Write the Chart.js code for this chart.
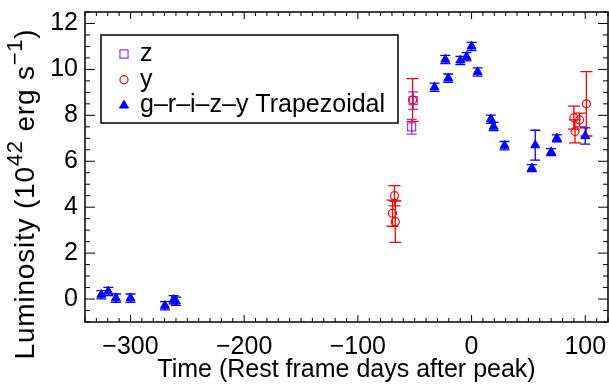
<!DOCTYPE html>
<html lang="en">
<head>
<meta charset="UTF-8">
<title>Luminosity light curve</title>
<script src="https://cdn.jsdelivr.net/npm/chart.js@4.4.4/dist/chart.umd.min.js"></script>
<style>
  html, body { margin: 0; padding: 0; background: #fff; }
</style>
</head>
<body>
<canvas id="lc" width="609" height="385"></canvas>
<script>
  // z band points (rest frame days, 1e42 erg/s)
  const zTime = [-52.7, -51.3];
  const zLum = [7.50, 8.64];
  const zErr = [0.32, 0.38];

  // y band points
  const yTime = [-69.5, -67.8, -67.1, -51.9, 90, 91, 95, 101];
  const yLum = [3.74, 4.50, 3.37, 8.67, 7.9, 7.3, 7.8, 8.5];
  const yErr = [0.57, 0.44, 0.90, 0.93, 0.50, 0.50, 0.30, 1.40];

  // g-r-i-z-y trapezoidal bolometric points
  const trapTime = [-325.6, -319.5, -312.8, -300, -269.7, -262.1, -260,
    -32.6, -23.1, -20.5, -9.9, -4.4, 0, 5.3, 17, 19.4, 29,
    53, 56, 70, 75, 100];
  const trapLum = [0.19, 0.33, 0.04, 0.04, -0.29, -0.03, -0.10,
    9.22, 10.43, 9.62, 10.39, 10.55, 11.0, 9.89, 7.83, 7.51, 6.68,
    5.7, 6.7, 6.4, 7.0, 7.1];
  const trapErr = [0.18, 0.18, 0.18, 0.18, 0.18, 0.18, 0.18,
    0.18, 0.18, 0.18, 0.18, 0.18, 0.18, 0.18, 0.18, 0.18, 0.18,
    0.15, 0.65, 0.15, 0.15, 0.35];

  const xTicks = [-300, -200, -100, 0, 100];
  const yTicks = [0, 2, 4, 6, 8, 10, 12];

  const FONT = '"Liberation Sans", Arial, Helvetica, sans-serif';
  const toPts = (xs, ys) => xs.map((t, i) => ({ x: t, y: ys[i] }));
  const minus = v => String(v).replace('-', '\u2212');

  // vertical error bars with caps, drawn under the markers
  const errorBars = {
    id: 'errorBars',
    beforeDatasetsDraw(chart) {
      const { ctx, scales: { x, y } } = chart;
      chart.data.datasets.forEach(ds => {
        ctx.save();
        ctx.strokeStyle = ds.borderColor;
        ctx.lineWidth = 1.3;
        ctx.beginPath();
        ds.data.forEach((p, j) => {
          const px = x.getPixelForValue(p.x);
          const top = y.getPixelForValue(p.y + ds.errors[j]);
          const bot = y.getPixelForValue(p.y - ds.errors[j]);
          const w = ds.capWidth / 2;
          ctx.moveTo(px, top); ctx.lineTo(px, bot);
          ctx.moveTo(px - w, top); ctx.lineTo(px + w, top);
          ctx.moveTo(px - w, bot); ctx.lineTo(px + w, bot);
        });
        ctx.stroke();
        ctx.restore();
      });
    }
  };

  // box round the plot with inward ticks on all four sides
  const frame = {
    id: 'frame',
    afterDraw(chart) {
      const { ctx, chartArea: a, scales: { x, y } } = chart;
      ctx.save();
      ctx.strokeStyle = '#000';
      ctx.lineWidth = 1.5;
      ctx.strokeRect(a.left, a.top, a.right - a.left, a.bottom - a.top);
      ctx.lineWidth = 1;
      ctx.beginPath();
      for (let v = -340; v <= 120; v += 10) {
        const px = x.getPixelForValue(v);
        const len = v % 100 === 0 ? 7 : 4;
        ctx.moveTo(px, a.bottom); ctx.lineTo(px, a.bottom - len);
        ctx.moveTo(px, a.top); ctx.lineTo(px, a.top + len);
      }
      for (let k = -2; k <= 25; k++) {
        const py = y.getPixelForValue(k / 2);
        const len = k % 4 === 0 ? 10 : 5;
        ctx.moveTo(a.left, py); ctx.lineTo(a.left + len, py);
        ctx.moveTo(a.right, py); ctx.lineTo(a.right - len, py);
      }
      ctx.stroke();
      ctx.restore();
    }
  };

  // y title with real superscripts
  const yTitle = {
    id: 'yTitle',
    afterDraw(chart) {
      const ctx = chart.ctx;
      const parts = [['Luminosity (10', 0], ['42', 1], [' erg s', 0], ['\u22121', 1], [')', 0]];
      ctx.save();
      ctx.letterSpacing = '0.8px';
      let total = 0;
      parts.forEach(([t, sup]) => {
        ctx.font = (sup ? 22 : 28) + 'px ' + FONT;
        total += ctx.measureText(t).width;
      });
      ctx.translate(34, 194 + total / 2);
      ctx.rotate(-Math.PI / 2);
      ctx.fillStyle = '#000';
      ctx.textBaseline = 'alphabetic';
      let cx = 0;
      parts.forEach(([t, sup]) => {
        ctx.font = (sup ? 22 : 28) + 'px ' + FONT;
        ctx.fillText(t, cx, sup ? -12 : 0);
        cx += ctx.measureText(t).width;
      });
      ctx.restore();
    }
  };

  // boxed legend inside the plot, top left
  const boxLegend = {
    id: 'boxLegend',
    afterDraw(chart) {
      const ctx = chart.ctx;
      ctx.save();
      ctx.strokeStyle = '#000';
      ctx.lineWidth = 1.5;
      ctx.strokeRect(101, 35, 297, 88);
      chart.data.datasets.forEach((ds, i) => {
        const cy = 54 + i * 25.7;
        ctx.strokeStyle = ds.borderColor;
        ctx.fillStyle = ds.backgroundColor;
        ctx.lineWidth = ds.borderWidth;
        Chart.helpers.drawPoint(ctx, { pointStyle: ds.pointStyle, radius: ds.pointRadius, rotation: 0, borderWidth: ds.borderWidth }, 124, cy);
        ctx.fillStyle = '#000';
        ctx.font = '25px ' + FONT;
        ctx.textBaseline = 'middle';
        ctx.fillText(ds.label, 140, cy);
      });
      ctx.restore();
    }
  };

  const noPad = s => { s.paddingTop = 0; s.paddingBottom = 0; s.paddingLeft = 0; s.paddingRight = 0; };

  new Chart(document.getElementById('lc'), {
    type: 'scatter',
    data: {
      datasets: [
        {
          label: 'z', data: toPts(zTime, zLum), errors: zErr, capWidth: 10,
          pointStyle: 'rect', pointRadius: 5.7, borderWidth: 1.2,
          borderColor: '#a030f0', backgroundColor: 'rgba(0,0,0,0)', order: 2
        },
        {
          label: 'y', data: toPts(yTime, yLum), errors: yErr, capWidth: 12,
          pointStyle: 'circle', pointRadius: 4, borderWidth: 1.2,
          borderColor: '#ff0000', backgroundColor: 'rgba(0,0,0,0)', order: 1
        },
        {
          label: 'g\u2013r\u2013i\u2013z\u2013y Trapezoidal', data: toPts(trapTime, trapLum), errors: trapErr, capWidth: 10,
          pointStyle: 'triangle', pointRadius: 5.2, borderWidth: 1,
          borderColor: '#0000ff', backgroundColor: '#0000ff', order: 3
        }
      ]
    },
    options: {
      responsive: false,
      animation: false,
      layout: { autoPadding: false, padding: { top: 12, right: 1, left: 0, bottom: 0 } },
      plugins: { legend: { display: false }, tooltip: { enabled: false } },
      scales: {
        x: {
          type: 'linear', min: -340, max: 120,
          grid: { display: false, drawTicks: false },
          border: { display: false },
          afterFit: s => { s.height = 63; noPad(s); },
          afterBuildTicks: s => { s.ticks = xTicks.map(v => ({ value: v })); },
          ticks: { color: '#000', padding: 10, font: { family: FONT, size: 25 }, callback: minus, maxRotation: 0 },
          title: { display: true, text: 'Time (Rest frame days after peak)', color: '#000', padding: 0, font: { family: FONT, size: 25 } }
        },
        y: {
          type: 'linear', min: -1, max: 12.5,
          grid: { display: false, drawTicks: false },
          border: { display: false },
          afterFit: s => { s.width = 85; noPad(s); },
          afterBuildTicks: s => { s.ticks = yTicks.map(v => ({ value: v })); },
          ticks: { color: '#000', padding: 7, font: { family: FONT, size: 25 }, callback: minus }
        }
      }
    },
    plugins: [errorBars, frame, yTitle, boxLegend]
  });
</script>
</body>
</html>
